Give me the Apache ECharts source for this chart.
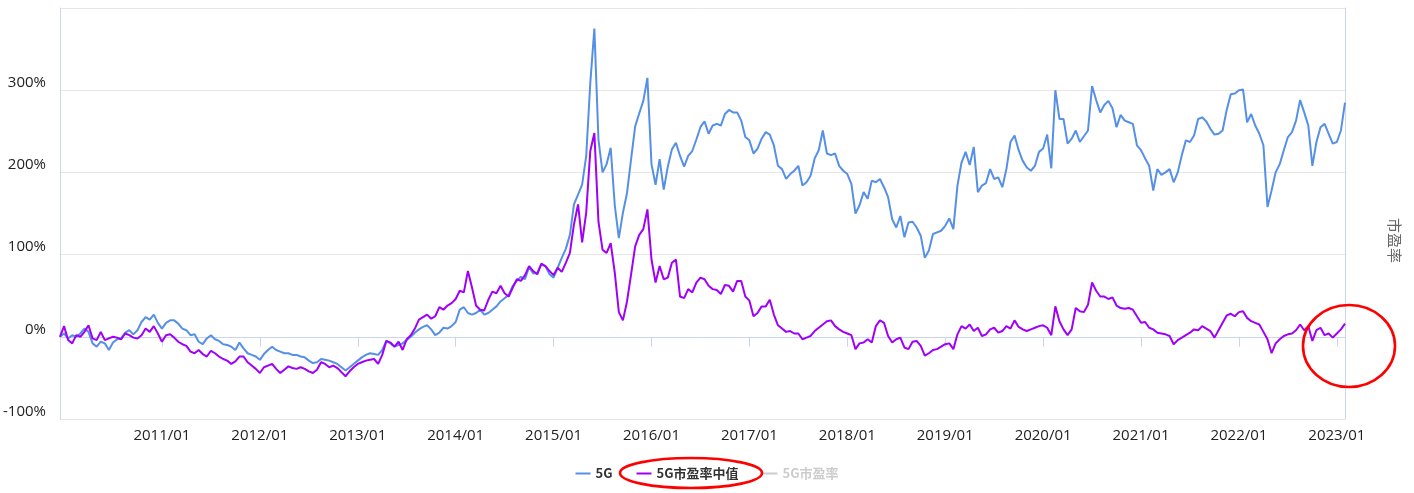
<!DOCTYPE html>
<html>
<head>
<meta charset="utf-8">
<script src="https://cdn.jsdelivr.net/npm/echarts@6/dist/echarts.min.js"></script>
<style>
  html, body { margin: 0; padding: 0; background: #fff; }
  #chart { width: 1414px; height: 493px; }
</style>
</head>
<body>
<div id="chart"></div>
<script>
// x categories: semi-monthly sampling dates (1st and 16th), Dec 2009 .. Feb 2023
const dates = ['2009-12-16'];
for (let y = 2010; y <= 2022; y++) {
  for (let m = 1; m <= 12; m++) {
    const mm = String(m).padStart(2, '0');
    dates.push(y + '-' + mm + '-01', y + '-' + mm + '-16');
  }
}
dates.push('2023-01-01', '2023-01-16', '2023-02-01');

// x-axis tick labels shown
const tickLabels = ['2011/01', '2012/01', '2013/01', '2014/01', '2015/01', '2016/01', '2017/01',
  '2018/01', '2019/01', '2020/01', '2021/01', '2022/01', '2023/01'];

// 5G index cumulative return (%)
const index5G = [
  0, 4, -2, 2, 0, 4, 10, 6, -8, -12, -6, -8, -16, -7, -3, -2, 5, 8, 3, 8, 18, 24, 21, 27, 17,
  10, 17, 20, 20, 16, 10, 8, 2, 3, -6, -9, -2, 2, -3, -5, -9, -10, -12, -16, -7, -14, -20, -22, -24,
  -28, -21, -16, -12, -16, -18, -20, -20, -22, -22, -24, -25, -29, -32, -31, -27, -28, -29, -31, -33, -37, -41, -37, -33,
  -29, -25, -22, -20, -21, -22, -16, -5, -8, -12, -10, -8, -4, 0, 5, 9, 12, 14, 9, 2, 5, 11, 10, 13,
  18, 33, 36, 29, 27, 29, 33, 27, 29, 33, 37, 43, 47, 51, 62, 68, 73, 70, 85, 77, 78, 88, 86, 76,
  72, 84, 96, 107, 124, 161, 173, 185, 220, 309, 375, 240, 200, 210, 230, 160, 120, 151, 175, 216, 256, 272, 287, 315,
  210, 185, 216, 179, 207, 228, 236, 220, 207, 220, 226, 240, 255, 262, 247, 257, 259, 257, 271, 276, 273, 273, 263, 243,
  239, 223, 229, 241, 249, 246, 233, 208, 204, 192, 198, 202, 208, 184, 188, 196, 217, 227, 251, 223, 221, 223, 208, 202,
  198, 186, 150, 160, 176, 168, 190, 188, 192, 182, 170, 143, 133, 147, 121, 139, 140, 133, 123, 96, 105, 125, 127, 129,
  135, 144, 131, 184, 212, 225, 209, 231, 176, 184, 187, 204, 192, 194, 182, 204, 237, 245, 227, 214, 206, 202, 208, 225,
  229, 246, 205, 300, 265, 265, 235, 241, 251, 237, 244, 251, 305, 288, 273, 282, 287, 278, 255, 270, 263, 261, 259, 233,
  227, 217, 208, 178, 204, 197, 200, 204, 188, 200, 221, 239, 237, 245, 265, 267, 262, 253, 246, 247, 251, 276, 295, 296,
  300, 301, 261, 271, 257, 247, 233, 158, 178, 200, 210, 227, 243, 249, 263, 288, 273, 257, 208, 237, 255, 259, 247, 235,
  237, 251, 285
];

// 5G median P/E cumulative change (%)
const peMedian = [
  0, 13, -4, -8, 2, 0, 6, 14, -2, -4, 6, -4, -2, 0, -1, -3, 4, 2, -1, -2, 2, 10, 6, 13, 4,
  -6, 2, 3, -1, -6, -9, -11, -18, -20, -16, -21, -24, -17, -20, -24, -27, -29, -33, -30, -24, -24, -31, -35, -39,
  -44, -37, -35, -33, -39, -44, -40, -36, -38, -39, -37, -39, -42, -44, -40, -31, -33, -37, -35, -38, -43, -48, -42, -37,
  -33, -31, -29, -28, -27, -33, -22, -5, -7, -12, -6, -16, -3, 2, 10, 21, 24, 27, 22, 25, 36, 33, 38, 41,
  46, 56, 54, 80, 60, 38, 33, 32, 45, 55, 53, 62, 53, 49, 60, 70, 68, 75, 86, 80, 76, 89, 86, 80,
  75, 84, 79, 90, 102, 137, 161, 115, 151, 226, 248, 140, 106, 102, 114, 78, 30, 20, 43, 76, 110, 124, 131, 155,
  94, 66, 86, 70, 72, 90, 94, 49, 47, 58, 54, 66, 72, 70, 62, 58, 57, 52, 63, 62, 55, 68, 68, 49,
  44, 25, 29, 37, 37, 45, 27, 14, 10, 6, 7, 4, 4, -3, -1, 1, 7, 11, 15, 19, 20, 13, 9, 6,
  4, 2, -15, -8, -7, -3, -7, 13, 20, 17, 1, -7, -3, -1, -13, -15, -6, -5, -11, -23, -20, -16, -15, -12,
  -9, -8, -15, 3, 13, 10, 15, 7, 11, 1, 3, 9, 11, 5, 7, 13, 10, 20, 12, 9, 7, 9, 11, 13,
  14, 11, 2, 37, 19, 9, 2, 9, 35, 31, 30, 39, 66, 56, 49, 49, 46, 48, 38, 35, 34, 35, 33, 25,
  17, 18, 11, 9, 5, 4, 3, 1, -9, -4, -1, 2, 5, 9, 8, 13, 10, 7, -1, 8, 17, 26, 28, 25,
  30, 31, 23, 19, 17, 15, 6, -3, -20, -8, -3, 1, 3, 4, 8, 15, 8, 13, -5, 8, 11, 2, 4, -1,
  4, 9, 16
];

// 5G P/E (series hidden in the legend, no visible marks)
const peValue = [];

const yTicks = [-100, 0, 100, 200, 300, 400];
const seriesNames = ['5G', '5G市盈率中值', '5G市盈率'];

const fmtDate = v => v.slice(0, 4) + '/' + v.slice(5, 7);
const showTick = (idx, val) => /-01-01$/.test(val) && tickLabels.indexOf(fmtDate(val)) >= 0;
const font = '"Open Sans", "Noto Sans CJK SC", sans-serif';

const chart = echarts.init(document.getElementById('chart'), null, { renderer: 'canvas' });
chart.setOption({
  animation: false,
  grid: { left: 58, right: 69, top: 8, bottom: 74, containLabel: false },
  legend: {
    data: seriesNames,
    bottom: 8,
    left: 'center',
    icon: 'rect',
    itemWidth: 15,
    itemHeight: 2,
    itemGap: 24,
    selected: { '5G市盈率': false },
    inactiveColor: '#cccccc',
    textStyle: { color: '#333', fontSize: 13, fontWeight: 'bold', fontFamily: '"Noto Sans CJK SC", sans-serif' }
  },
  xAxis: {
    type: 'category',
    data: dates,
    boundaryGap: false,
    axisLine: { lineStyle: { color: '#ccd6eb', width: 1 } },
    axisTick: { show: true, interval: showTick, length: 10, lineStyle: { color: '#ccd6eb' } },
    axisLabel: {
      interval: showTick,
      formatter: fmtDate,
      color: '#222', fontSize: 15, fontFamily: font, margin: 9
    },
    splitLine: { show: false }
  },
  yAxis: [
    {
      type: 'value',
      min: yTicks[0], max: yTicks[yTicks.length - 1], interval: 100,
      axisLine: { show: true, lineStyle: { color: '#ccd6eb' } },
      axisTick: { show: false },
      axisLabel: {
        formatter: v => (v === 400 ? '' : v + '%'),
        color: '#222', fontSize: 15, fontFamily: font, margin: 14, verticalAlign: 'bottom'
      },
      splitLine: { show: true, lineStyle: { color: '#e6e6e6', width: 1 } }
    },
    {
      type: 'value',
      position: 'right',
      name: '市盈率',
      nameLocation: 'middle',
      nameRotate: -90,
      nameGap: 42,
      nameTextStyle: { color: '#666', fontSize: 15, fontFamily: '"Noto Sans CJK SC", sans-serif', padding: [0, 0, 0, 54] },
      axisLine: { show: true, lineStyle: { color: '#ccd6eb' } },
      axisTick: { show: false },
      axisLabel: { show: false },
      splitLine: { show: false }
    }
  ],
  series: [
    {
      name: seriesNames[0], type: 'line', data: index5G, yAxisIndex: 0,
      symbol: 'none', lineStyle: { color: '#5590e6', width: 2 }, itemStyle: { color: '#5590e6' }
    },
    {
      name: seriesNames[1], type: 'line', data: peMedian, yAxisIndex: 0,
      symbol: 'none', lineStyle: { color: '#a000f8', width: 2 }, itemStyle: { color: '#a000f8' }
    },
    {
      name: seriesNames[2], type: 'line', data: peValue, yAxisIndex: 1,
      symbol: 'none', lineStyle: { color: '#f4a460', width: 2 }, itemStyle: { color: '#f4a460' }
    }
  ],
  graphic: [
    { type: 'ellipse', z: 100, shape: { cx: 1349, cy: 346, rx: 46, ry: 41 },
      style: { fill: 'none', stroke: '#ff0000', lineWidth: 2.6 } },
    { type: 'ellipse', z: 100, shape: { cx: 691, cy: 473, rx: 71, ry: 15 },
      style: { fill: 'none', stroke: '#ff0000', lineWidth: 2.6 } }
  ]
});
</script>
</body>
</html>
